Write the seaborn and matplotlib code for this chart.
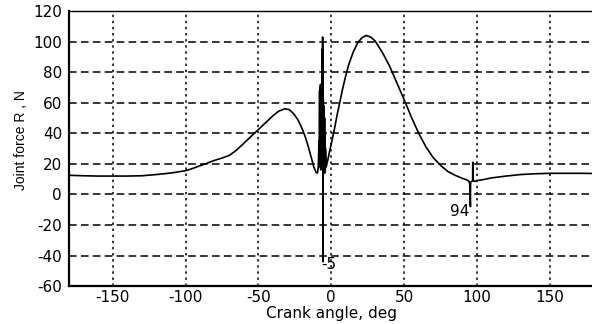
import matplotlib
matplotlib.use("Agg")
import matplotlib.pyplot as plt
import seaborn as sns
import pandas as pd

# Crank angle (deg) and joint force (N)
crank_angle = [-180, -170, -160, -150, -140, -130, -120, -110, -100, -95, -90, -85, -80, -75,
               -70, -65, -60, -55, -50, -45, -40, -36, -32, -29, -26, -23, -20, -18, -16,
               -14, -12, -10.5, -9.5, -9.0, -8.7, -8.5, -8.3,
               -8.0, -7.85, -7.7, -7.55, -7.4, -7.25, -7.1, -6.95, -6.8, -6.65, -6.5, -6.35,
               -6.2, -6.05, -5.95, -5.6, -5.5, -5.35, -5.2, -5.05, -4.9, -4.75, -4.6, -4.45,
               -4.3, -4.15, -4.0, -3.5, -2.5, -1, 0, 2, 4, 6, 8, 10, 12, 15, 18, 21, 24, 27,
               30, 35, 40, 45, 50, 55, 60, 65, 70, 75, 80, 85, 90, 93, 94.5, 95.0, 95.5,
               95.6, 96.5, 97.0, 97.1, 97.5, 98.5, 100, 105, 110, 120, 130, 140, 150,
               160, 170, 180]
joint_force = [12.5, 12.2, 12.0, 12.0, 12.0, 12.2, 13.0, 14.0, 15.5, 17.0, 18.8, 20.5, 22.3, 23.8,
               25.5, 29.0, 33.5, 38.0, 42.5, 47.0, 51.5, 54.5, 56.0, 55.5, 53.0, 49.0, 43.0, 38.0, 32.0,
               25.0, 18.0, 14.5, 14.0, 17.0, 25.0, 35.0, 20.0,
               68.0, 18.0, 70.0, 20.0, 72.0, 16.0, 70.0, 22.0, 71.0, 18.0, 69.0, 20.0,
               95.0, 16.0, 103.0, -44.0, 62.0, 15.0, 58.0, 14.0, 55.0, 16.0, 50.0, 14.0,
               40.0, 15.0, 30.0, 18.0, 22.0, 29.0, 33.0, 42.0, 52.0, 61.0, 70.0, 78.0, 85.0, 93.0, 99.0, 102.5, 104.0, 103.0,
               100.5, 93.0, 84.0, 73.0, 62.0, 50.5, 40.0, 31.0, 24.0, 19.0, 15.0, 12.5, 10.5, 9.5, 8.5, 7.0, -8.0,
               8.0, 8.5, 9.0, 21.0, 9.0, 8.5, 9.0, 9.8, 10.8, 12.0, 13.0, 13.5, 13.8,
               13.8, 13.8, 13.7]

x_ticks = [-150, -100, -50, 0, 50, 100, 150]
y_ticks = [-60, -40, -20, 0, 20, 40, 60, 80, 100, 120]
annotations = [("-5", -7.0, -46, "left"), ("94", 95.0, -11, "right")]

df = pd.DataFrame({"angle": crank_angle, "force": joint_force})

sns.set_style("white")
plt.rcParams["font.family"] = ["DejaVu Sans"]
plt.rcParams["axes.unicode_minus"] = False

fig = plt.figure(figsize=(5.92, 3.24), dpi=100)
ax = fig.add_axes([0.1166, 0.117, 0.886, 0.849])

sns.lineplot(data=df, x="angle", y="force", sort=False, estimator=None,
             color="black", linewidth=1.2, ax=ax)

ax.set_xlim(-180, 180)
ax.set_ylim(-60, 120)
ax.set_xticks(x_ticks)
ax.set_yticks(y_ticks)

for t in x_ticks:
    ax.axvline(t, color="black", linewidth=1.1, linestyle=(0, (1.6, 2.4)), zorder=0)
for t in y_ticks[1:-1]:
    ax.axhline(t, color="black", linewidth=1.1, linestyle=(0, (5.0, 2.8)), zorder=0)

for txt, xx, yy, ha in annotations:
    ax.text(xx, yy, txt, ha=ha, va="center", fontsize=11, color="black")

ax.set_xlabel("Crank angle, deg", fontsize=11, color="black")
ax.set_ylabel("Joint force R , N", fontsize=10, color="black", family="Liberation Sans")
ax.xaxis.label.set_va("center")
ax.yaxis.label.set_va("center")
ax.xaxis.set_label_coords(0.501, -0.1)
ax.yaxis.set_label_coords(-0.0915, 0.531)
ax.tick_params(axis="both", labelsize=11, length=0, colors="black")
ax.tick_params(axis="y", pad=5)
ax.tick_params(axis="x", pad=3)

for s in ["left", "bottom"]:
    ax.spines[s].set_linewidth(1.6)
    ax.spines[s].set_color("black")
ax.spines["top"].set_linewidth(1.0)
ax.spines["top"].set_color("black")
ax.spines["right"].set_visible(False)

fig.savefig("out.png", dpi=100)
